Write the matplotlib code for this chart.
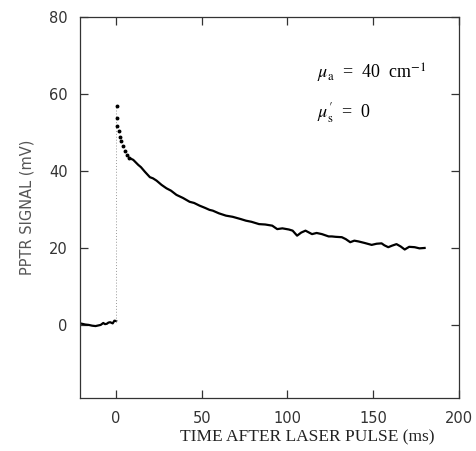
import matplotlib
matplotlib.use("Agg")
from matplotlib import pyplot as plt

# pre-pulse baseline (ms, mV)
base_t = [-20, -18, -16, -14, -12, -10, -9, -7.5, -6.5, -5.4, -4.5, -3.5, -2, -1, 0]
base_v = [0.3, 0.1, 0.0, -0.2, -0.3, -0.1, 0.0, 0.5, 0.2, 0.3, 0.6, 0.7, 0.4, 1.1, 1.0]

# first sampled points right after the pulse (drawn as dots)
early_t = [0.3, 0.4, 0.8, 1.5, 2.5, 3.1, 4.2, 5.2, 6.4, 7.7]
early_v = [57.0, 53.9, 51.8, 50.3, 48.9, 47.9, 46.4, 45.3, 44.2, 43.4]

# decay trace
decay_t = [7.7, 10, 12.9, 14.5, 16.8, 19.7, 21.5, 23.6, 26.5, 29.4, 32, 35.2, 39, 42.9,
           45.5, 48.7, 52, 54.5, 56.4, 60, 64.1, 68, 72.8, 75.7, 79, 83.4, 87, 91.1, 94.0,
           97, 100.8, 103, 105.6, 108, 110.5, 114.3, 117, 120.1, 124, 125.9, 128, 131.7,
           134, 136.6, 139, 141.4, 145, 149.1, 152, 154.9, 156.5, 158.8, 161, 163.6, 166,
           168.4, 171, 174.2, 177, 180]
decay_v = [43.4, 42.9, 41.6, 41.0, 39.8, 38.4, 38.1, 37.5, 36.4, 35.5, 34.9, 33.8, 33.0, 32.0,
           31.7, 31.0, 30.4, 29.9, 29.7, 29.0, 28.4, 28.1, 27.5, 27.1, 26.8, 26.2, 26.1, 25.8, 24.9,
           25.1, 24.8, 24.5, 23.2, 24.0, 24.5, 23.6, 23.9, 23.6, 23.0, 23.0, 22.9, 22.8,
           22.3, 21.5, 21.9, 21.7, 21.3, 20.8, 21.1, 21.2, 20.7, 20.2, 20.6, 21.0, 20.4,
           19.6, 20.3, 20.2, 19.9, 20.0]

x_ticks = [0, 50, 100, 150, 200]
y_ticks = [0, 20, 40, 60, 80]

plt.rcParams['mathtext.fontset'] = 'stix'

fig = plt.figure(figsize=(4.77, 4.51), dpi=100)
ax = fig.add_axes([0.168, 0.1175, 0.794, 0.8445])

ax.plot(base_t, base_v, color='black', lw=1.6)
ax.plot([0, 0], [1.0, 57.0], color='#999999', lw=0.7, ls=(0, (1, 2)))
ax.plot(early_t, early_v, 'o', color='black', ms=1.8)
ax.plot(decay_t, decay_v, color='black', lw=1.6)

ax.set_xlim(-21, 200)
ax.set_ylim(-19, 80)
ax.set_xticks(x_ticks)
ax.set_yticks(y_ticks)
ax.tick_params(direction='in', length=6, width=0.9, top=True, right=True,
               labeltop=False, labelright=False, labelsize=10.5,
               labelcolor='#333333', color='#333333', pad=9)
for s in ax.spines.values():
    s.set_linewidth(0.9)
    s.set_color('#333333')

ax.set_xlabel('TIME AFTER LASER PULSE (ms)', family='Liberation Serif', fontsize=12.5,
              color='#222222', labelpad=3, x=0.6)
ax.set_ylabel('PPTR SIGNAL (mV)', fontsize=10.5, color='#555555', labelpad=10)

ax.text(117, 64, r'$\mu_{\rm a}$  =  40  cm$^{-1}$', family='Liberation Serif', fontsize=13)
ax.text(117, 54, r"$\mu_{\rm s}^{\prime}$  =  0", family='Liberation Serif', fontsize=13)

fig.savefig('out.png', dpi=100)
